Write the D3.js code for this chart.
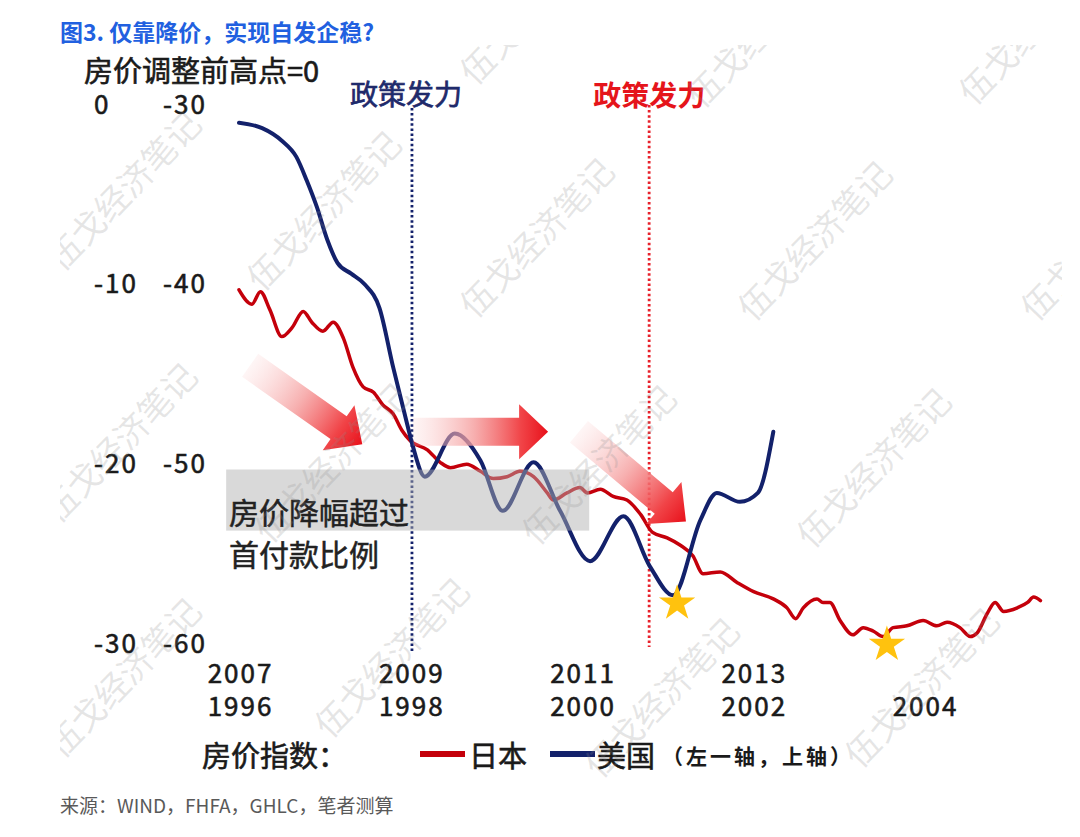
<!DOCTYPE html>
<html>
<head>
<meta charset="utf-8">
<script src="https://cdn.jsdelivr.net/npm/d3@7"></script>
<style>
  body { margin: 0; background: #fff; }
  svg text { font-family: "Noto Sans CJK SC", "Liberation Sans", sans-serif; }
</style>
</head>
<body>
<svg width="1080" height="837"></svg>
<script>
var svg = d3.select("svg"),
  width = +svg.attr("width"),
  height = +svg.attr("height");

// Japan house price index, % from pre-adjustment peak (lower x row, right y column)
var jpDates = [1996.00, 1996.15, 1996.25, 1996.36, 1996.50, 1996.62, 1996.75, 1996.85, 1996.98, 1997.10,
  1997.22, 1997.33, 1997.45, 1997.57, 1997.68, 1997.80, 1997.90, 1998.00, 1998.20, 1998.35,
  1998.47, 1998.66, 1998.82, 1998.97, 1999.13, 1999.28, 1999.44, 1999.60, 1999.67, 1999.83,
  1999.98, 2000.07, 2000.22, 2000.37, 2000.53, 2000.69, 2000.83, 2001.00, 2001.15, 2001.30,
  2001.42, 2001.62, 2001.82, 2002.01, 2002.24, 2002.40, 2002.50, 2002.59, 2002.75, 2002.82,
  2002.90, 2003.02, 2003.17, 2003.29, 2003.41, 2003.52, 2003.64, 2003.80, 2003.99, 2004.15,
  2004.27, 2004.42, 2004.54, 2004.62, 2004.74, 2004.83, 2004.93, 2005.09, 2005.21, 2005.28, 2005.36];
var jpValues = [-40.4, -41.2, -40.5, -41.5, -43.0, -42.5, -41.6, -42.2, -42.7, -42.2,
  -43.1, -44.7, -45.8, -46.1, -46.8, -47.3, -48.2, -48.8, -49.3, -50.0,
  -50.3, -50.1, -50.5, -50.9, -50.8, -50.5, -50.8, -51.7, -52.1, -51.7,
  -51.4, -51.7, -51.5, -51.9, -52.1, -52.9, -53.9, -54.2, -54.6, -55.2,
  -56.2, -56.1, -56.7, -57.2, -57.6, -58.1, -58.7, -58.1, -57.6, -57.8,
  -57.8, -58.8, -59.6, -59.2, -59.4, -59.7, -59.2, -59.1, -58.8, -59.1,
  -58.9, -59.2, -59.7, -59.5, -58.4, -57.8, -58.3, -58.1, -57.8, -57.5, -57.7];

// US house price index (upper x row, left y column)
var usDates = [2007.00, 2007.27, 2007.50, 2007.67, 2007.79, 2007.91, 2008.03, 2008.15, 2008.31, 2008.47,
  2008.64, 2008.80, 2008.96, 2009.03, 2009.17, 2009.52, 2009.82, 2010.08, 2010.44, 2010.75,
  2011.10, 2011.49, 2011.80, 2012.07, 2012.39, 2012.58, 2012.85, 2013.06, 2013.24];
var usValues = [-1.1, -1.4, -2.1, -3.0, -4.3, -5.8, -7.6, -8.9, -9.5, -10.1,
  -11.4, -14.7, -17.8, -19.1, -20.8, -18.4, -19.9, -22.7, -20.0, -22.7,
  -25.5, -23.0, -25.8, -27.4, -23.2, -21.7, -22.2, -21.7, -18.3];

var usTicksX = [2007, 2009, 2011, 2013];
var jpTicksX = [1996, 1998, 2000, 2002, 2004];
var usTicksY = [0, -10, -20, -30];
var jpTicksY = [-30, -40, -50, -60];

var policyUS = 2009.02, policyJP = 2000.79;

// annotations, in US axis coordinates
var arrows = [
  {from: [2007.13, -14.6], to: [2008.44, -19.0]},
  {from: [2009.03, -18.3], to: [2010.61, -18.3]},
  {from: [2010.97, -18.3], to: [2012.22, -23.3]}
];
var shadeBox = {x0: 2006.85, x1: 2011.09, y0: -20.4, y1: -23.8};

var xJp = d3.scaleLinear().domain([1996, 2004]).range([239, 924]);
var xUs = d3.scaleLinear().domain([2007, 2015]).range([239, 924]);
var yUs = d3.scaleLinear().domain([0, -30]).range([103, 642]);
var yJp = d3.scaleLinear().domain([-30, -60]).range([103, 642]);

var US_BLUE = "#13216b", JP_RED = "#c4000b", INK = "#1a1a1a";

var defs = svg.append("defs");
defs.append("clipPath").attr("id", "pic")
  .append("rect").attr("x", 60).attr("y", 45).attr("width", 1002).attr("height", 737);

// thicken text a little, the reference is heavier than regular weight
function heavy(sel, color, w) {
  sel.attr("fill", color).attr("stroke", color).attr("stroke-width", w || 0.5);
}

// Title
svg.append("text")
  .attr("x", 60).attr("y", 31)
  .attr("dominant-baseline", "central")
  .attr("font-size", 23).attr("font-weight", "bold")
  .attr("fill", "#2160e0")
  .text("图3. 仅靠降价，实现自发企稳?");

svg.append("text")
  .attr("x", 84).attr("y", 69)
  .attr("dominant-baseline", "central")
  .attr("font-size", 29)
  .call(heavy, INK, 0.6)
  .text("房价调整前高点=0");

/**
 * Removes the axis line and restyles labels
 */
function styleAxis(g) {
  g.select(".domain").remove();
  g.attr("font-family", "Liberation Sans, Arial, sans-serif")
    .attr("font-size", 26);
  g.selectAll("text")
    .attr("letter-spacing", "2px")
    .call(heavy, INK, 0.6);
}

var fmt = function(d) { return String(d); };

// y columns
svg.append("g").attr("transform", "translate(94,2)")
  .call(d3.axisLeft(yUs).tickValues(usTicksY).tickSize(0).tickPadding(0).tickFormat(fmt))
  .call(styleAxis)
  .attr("text-anchor", "start");
svg.append("g").attr("transform", "translate(163,2)")
  .call(d3.axisLeft(yJp).tickValues(jpTicksY).tickSize(0).tickPadding(0).tickFormat(fmt))
  .call(styleAxis)
  .attr("text-anchor", "start");

// x rows
svg.append("g").attr("transform", "translate(1,674)")
  .call(d3.axisBottom(xUs).tickValues(usTicksX).tickSize(0).tickPadding(0).tickFormat(fmt))
  .call(styleAxis)
  .selectAll("text").attr("y", 0).attr("dy", "0.35em");
svg.append("g").attr("transform", "translate(1,707)")
  .call(d3.axisBottom(xJp).tickValues(jpTicksX).tickSize(0).tickPadding(0).tickFormat(fmt))
  .call(styleAxis)
  .selectAll("text").attr("y", 0).attr("dy", "0.35em");

// policy lines
svg.append("line")
  .attr("x1", xUs(policyUS)).attr("x2", xUs(policyUS))
  .attr("y1", 108).attr("y2", 652)
  .attr("stroke", US_BLUE).attr("stroke-width", 2.8)
  .attr("stroke-dasharray", "2.5,2.6");
svg.append("line")
  .attr("x1", xJp(policyJP)).attr("x2", xJp(policyJP))
  .attr("y1", 105).attr("y2", 647)
  .attr("stroke", "#e8202a").attr("stroke-width", 2.8)
  .attr("stroke-dasharray", "2.5,2.6");

svg.append("text")
  .attr("x", xUs(policyUS) - 6).attr("y", 93)
  .attr("text-anchor", "middle").attr("dominant-baseline", "central")
  .attr("font-size", 28)
  .call(heavy, "#1f2a6b", 0.7)
  .text("政策发力");
svg.append("text")
  .attr("x", xJp(policyJP)).attr("y", 94)
  .attr("text-anchor", "middle").attr("dominant-baseline", "central")
  .attr("font-size", 28).attr("font-weight", "bold").attr("fill", "#e5141b")
  .text("政策发力");

// lines
var jpData = jpDates.map(function(d, i) { return [d, jpValues[i]]; });
var usData = usDates.map(function(d, i) { return [d, usValues[i]]; });

var jpLine = d3.line().curve(d3.curveMonotoneX)
  .x(function(d) { return xJp(d[0]); })
  .y(function(d) { return yJp(d[1]); });
var usLine = d3.line().curve(d3.curveMonotoneX)
  .x(function(d) { return xUs(d[0]); })
  .y(function(d) { return yUs(d[1]); });

svg.append("path").datum(jpData)
  .attr("d", jpLine)
  .attr("fill", "none").attr("stroke", JP_RED)
  .attr("stroke-width", 3.5).attr("stroke-linejoin", "round").attr("stroke-linecap", "round");
svg.append("path").datum(usData)
  .attr("d", usLine)
  .attr("fill", "none").attr("stroke", US_BLUE)
  .attr("stroke-width", 4).attr("stroke-linejoin", "round").attr("stroke-linecap", "round");

// shaded box over lines
svg.append("rect")
  .attr("x", xUs(shadeBox.x0)).attr("y", yUs(shadeBox.y0))
  .attr("width", xUs(shadeBox.x1) - xUs(shadeBox.x0))
  .attr("height", yUs(shadeBox.y1) - yUs(shadeBox.y0))
  .attr("fill", "#afafaf").attr("fill-opacity", 0.48);

svg.append("text")
  .attr("x", 229).attr("y", 511)
  .attr("dominant-baseline", "central")
  .attr("font-size", 30)
  .call(heavy, "#222", 0.5)
  .text("房价降幅超过");
svg.append("text")
  .attr("x", 229).attr("y", 553)
  .attr("dominant-baseline", "central")
  .attr("font-size", 30)
  .call(heavy, "#222", 0.5)
  .text("首付款比例");

// gradient arrows
var grad = defs.append("linearGradient").attr("id", "arrow-grad")
  .attr("x1", "0%").attr("x2", "100%").attr("y1", "0%").attr("y2", "0%");
grad.append("stop").attr("offset", "0%").attr("stop-color", "#fbd0d0").attr("stop-opacity", 0.2);
grad.append("stop").attr("offset", "45%").attr("stop-color", "#f59c9c").attr("stop-opacity", 0.8);
grad.append("stop").attr("offset", "80%").attr("stop-color", "#f03a3e").attr("stop-opacity", 0.95);
grad.append("stop").attr("offset", "100%").attr("stop-color", "#e8101a").attr("stop-opacity", 1);

arrows.forEach(function(a) {
  var x0 = xUs(a.from[0]), y0 = yUs(a.from[1]),
    x1 = xUs(a.to[0]), y1 = yUs(a.to[1]);
  var len = Math.hypot(x1 - x0, y1 - y0),
    ang = Math.atan2(y1 - y0, x1 - x0) * 180 / Math.PI;
  var bw = 14, hw = 27.5, hl = 29;
  var pts = [[0, -bw], [len - hl, -bw], [len - hl, -hw], [len, 0], [len - hl, hw], [len - hl, bw], [0, bw]];
  svg.append("path")
    .attr("transform", "translate(" + x0 + "," + y0 + ") rotate(" + ang + ")")
    .attr("d", "M" + pts.join("L") + "Z")
    .attr("fill", "url(#arrow-grad)");
});

// stars on the troughs
var star = d3.symbol().type(d3.symbolStar).size(410);
var usMin = usData[d3.minIndex(usValues)], jpMin = jpData[d3.minIndex(jpValues)];
[[xUs(usMin[0]), yUs(usMin[1])], [xJp(jpMin[0]), yJp(jpMin[1])]].forEach(function(p) {
  svg.append("path")
    .attr("transform", "translate(" + (p[0] + 4) + "," + (p[1] + 8) + ")")
    .attr("d", star)
    .attr("fill", "#ffc20e");
});

// legend
var leg = svg.append("g").attr("transform", "translate(0,754)");
leg.append("text").attr("x", 202).attr("dominant-baseline", "central")
  .attr("font-size", 29).call(heavy, INK, 0.6).text("房价指数：");
leg.append("line").attr("x1", 420).attr("x2", 465)
  .attr("stroke", JP_RED).attr("stroke-width", 6);
leg.append("text").attr("x", 469).attr("dominant-baseline", "central")
  .attr("font-size", 29).call(heavy, INK, 0.6).text("日本");
leg.append("line").attr("x1", 550).attr("x2", 595)
  .attr("stroke", US_BLUE).attr("stroke-width", 6);
leg.append("text").attr("x", 597).attr("dominant-baseline", "central")
  .attr("font-size", 29).call(heavy, INK, 0.6).text("美国");
leg.append("text").attr("x", 662).attr("y", 1).attr("dominant-baseline", "central")
  .attr("font-size", 21).attr("font-weight", "bold").attr("letter-spacing", "3px")
  .attr("fill", INK).text("（左一轴，上轴）");

// source
svg.append("text")
  .attr("x", 60).attr("y", 804)
  .attr("dominant-baseline", "central")
  .attr("font-size", 19).attr("fill", "#595959")
  .text("来源：WIND，FHFA，GHLC，笔者测算");

// watermark
var marks = [[62, 273], [262, 293], [475, 320], [753, 323], [1036, 323], [475, 87], [702, 110], [974, 107],
  [58, 525], [270, 545], [537, 547], [812, 550], [62, 760], [330, 740], [600, 780], [860, 770]];
svg.append("g").attr("clip-path", "url(#pic)")
  .selectAll("text").data(marks).enter()
  .append("text")
  .attr("transform", function(d) { return "translate(" + d[0] + "," + d[1] + ") rotate(-46)"; })
  .attr("font-size", 34)
  .attr("fill", "#8c8c8c").attr("fill-opacity", 0.22)
  .text("伍戈经济笔记");
</script>
</body>
</html>
